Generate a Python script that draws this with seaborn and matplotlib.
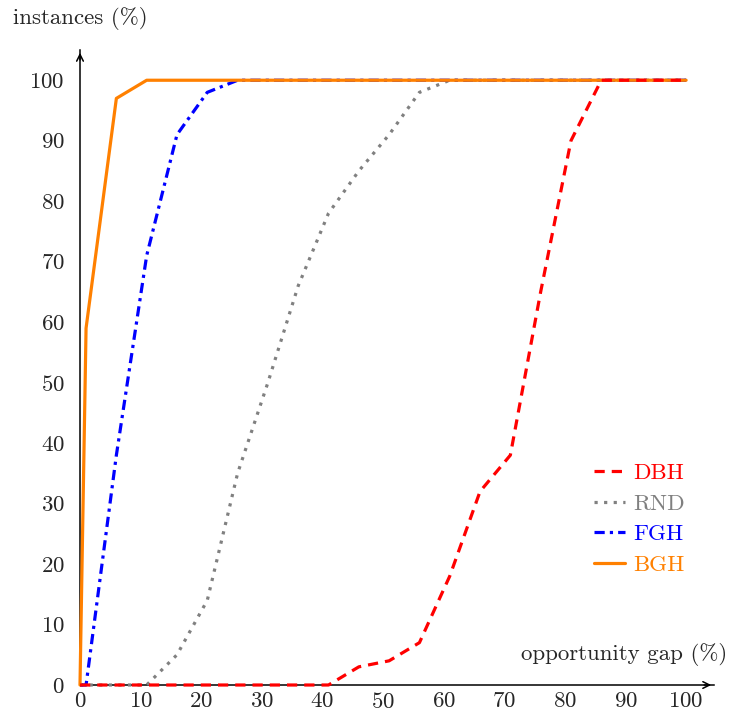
import pandas as pd
import matplotlib
matplotlib.use("Agg")
import matplotlib.pyplot as plt
import seaborn as sns

# opportunity gap (%) sample points
gap = [0, 1, 6, 11, 16, 21, 26, 31, 36, 41, 46, 51, 56, 61, 66, 71, 76, 81, 86, 91, 96, 100]

# instances (%) per heuristic
dbh = [0, 0, 0, 0, 0, 0, 0, 0, 0, 0, 3, 4, 7, 18, 32, 38, 65, 90, 100, 100, 100, 100]
rnd = [0, 0, 0, 0, 5, 14, 35, 50, 66, 78, 85, 91, 98, 100, 100, 100, 100, 100, 100, 100, 100, 100]
fgh = [0, 0, 38, 71, 91, 98, 100, 100, 100, 100, 100, 100, 100, 100, 100, 100, 100, 100, 100, 100, 100, 100]
bgh = [0, 59, 97, 100, 100, 100, 100, 100, 100, 100, 100, 100, 100, 100, 100, 100, 100, 100, 100, 100, 100, 100]

names = ["DBH", "RND", "FGH", "BGH"]
colors = {"DBH": "#ff0000", "RND": "#808080", "FGH": "#0000ff", "BGH": "#ff8000"}
dashes = {"DBH": (3.2, 2.2), "RND": (1, 2), "FGH": (3.2, 1.6, 1, 1.6), "BGH": ""}
zorders = {"DBH": 6, "RND": 3, "FGH": 4, "BGH": 5}

df = pd.DataFrame({"gap": gap, "DBH": dbh, "RND": rnd, "FGH": fgh, "BGH": bgh})
long = df.melt(id_vars="gap", var_name="method", value_name="inst")

sns.set_style("white")
plt.rcParams["font.family"] = ["cmr10", "DejaVu Serif"]
plt.rcParams["mathtext.fontset"] = "cm"
plt.rcParams["axes.formatter.use_mathtext"] = True

FS = 16.5

fig = plt.figure(figsize=(7.3, 7.23), dpi=100)
ax = fig.add_axes([80 / 730, 38 / 723, 634 / 730, 635 / 723])

for m in names:
    d = long[long["method"] == m]
    sns.lineplot(data=d, x="gap", y="inst", ax=ax, color=colors[m], label=m,
                 linewidth=2.3, sort=False, zorder=zorders[m], clip_on=False)
    if dashes[m]:
        ax.lines[-1].set_dashes(dashes[m])

ax.set_xlim(0, 104.6)
ax.set_ylim(0, 105)
ax.set_xticks(range(0, 101, 10))
ax.set_yticks(range(0, 101, 10))
ax.tick_params(axis="both", length=0, labelsize=FS)
ax.tick_params(axis="y", pad=11)
ax.tick_params(axis="x", pad=5)
ax.set_xlabel("")
ax.set_ylabel("")

for s in ["top", "right"]:
    ax.spines[s].set_visible(False)
for s in ["left", "bottom"]:
    ax.spines[s].set_color("black")
    ax.spines[s].set_linewidth(1.1)

# arrow heads on axes
ax.annotate("", xy=(1.0, 0), xytext=(0.98, 0), xycoords="axes fraction",
            arrowprops=dict(arrowstyle="->", color="black", lw=1.1, mutation_scale=12))
ax.annotate("", xy=(0, 1.0), xytext=(0, 0.98), xycoords="axes fraction",
            arrowprops=dict(arrowstyle="->", color="black", lw=1.1, mutation_scale=12))

fig.text(80 / 730, 1 - 18 / 723, "instances (%)", ha="center", va="center", fontsize=FS)
fig.text(727 / 730, 1 - 654 / 723, "opportunity gap (%)", ha="right", va="center", fontsize=FS)

leg = ax.legend(loc="center left", bbox_to_anchor=(594 / 730, 1 - 519 / 723), bbox_transform=fig.transFigure,
                frameon=False, fontsize=FS, handlelength=1.35, handletextpad=0.38,
                labelspacing=0.46, borderpad=0, borderaxespad=0)
for line, text in zip(leg.get_lines(), leg.get_texts()):
    text.set_color(line.get_color())

fig.savefig("out.png", dpi=100)
